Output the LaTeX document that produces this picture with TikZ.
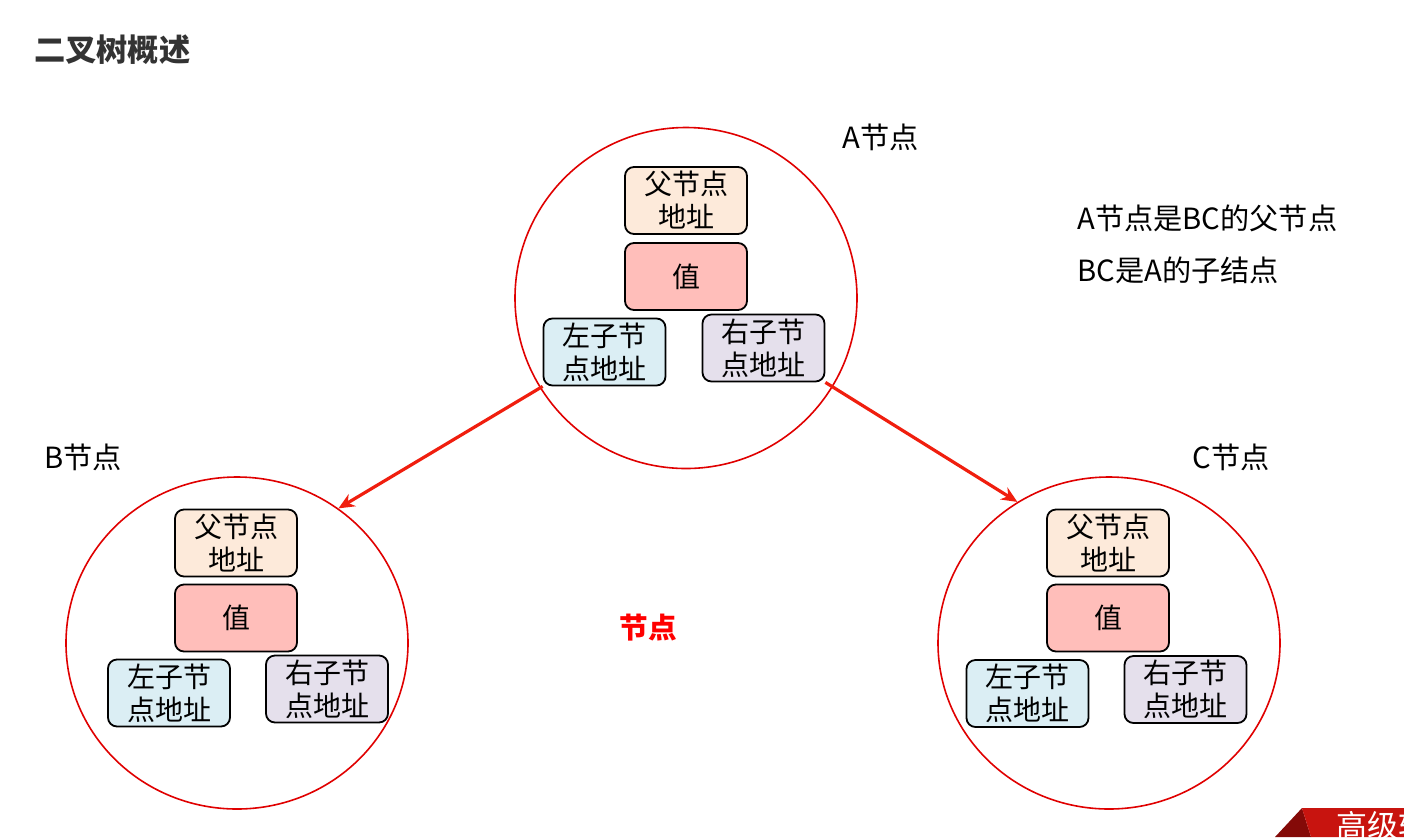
\documentclass[tikz,border=0pt]{standalone}
\usepackage{fontspec}
\setmainfont{Noto Sans CJK SC}
\usetikzlibrary{arrows.meta,shapes.geometric}

\definecolor{peach}{HTML}{FDEADA}
\definecolor{valred}{HTML}{FFBEBA}
\definecolor{lblue}{HTML}{DBEEF4}
\definecolor{lilac}{HTML}{E5E0EC}
\definecolor{ringred}{HTML}{E00000}
\definecolor{arrowred}{HTML}{F01E0E}
\definecolor{titlegray}{HTML}{333333}
\definecolor{bandred}{HTML}{C8140F}
\definecolor{banddark}{HTML}{840A08}

\tikzset{
  field/.style={draw=black, line width=0.9pt, rounded corners=4.5pt,
    minimum width=61pt, minimum height=33.5pt, inner sep=0pt,
    align=center, font=\fontsize{14}{16.5}\selectfont},
  parentbox/.style={field, fill=peach},
  valuebox/.style={field, fill=valred},
  leftbox/.style={field, fill=lblue},
  rightbox/.style={field, fill=lilac},
  ring/.style={ellipse, draw=ringred, line width=0.8pt, inner sep=0pt,
    minimum width=171pt, minimum height=#1},
  ring/.default=166pt,
  link/.style={draw=arrowred, line width=1.6pt,
    -{Stealth[length=8pt,width=7pt]}},
  caption/.style={font=\fontsize{14.6}{17}\selectfont, inner sep=0pt},
}

\begin{document}
\begin{tikzpicture}[x=0.5pt,y=-0.5pt]
\useasboundingbox (0,0) rectangle (1404,837);
\fill[white] (0,0) rectangle (1404,837);

% heading
\node[anchor=west, inner sep=0pt, text=titlegray,
      font=\fontsize{15.6}{18}\selectfont\bfseries] (title) at (34,50) {二叉树概述};

% node A
\node[ring=170.5pt] (A) at (686,298) {};
\node[parentbox] (Ap) at (686,200.5) {父节点\\地址};
\node[valuebox]  (Av) at (686,276.5) {值};
\node[leftbox]   (Al) at (604.5,352) {左子节\\点地址};
\node[rightbox]  (Ar) at (763.5,348) {右子节\\点地址};
\node[caption] (Alab) at (881,137) {A节点};

% node B
\node[ring] (B) at (237,643) {};
\node[parentbox] (Bp) at (236,543) {父节点\\地址};
\node[valuebox]  (Bv) at (236,618) {值};
\node[leftbox]   (Bl) at (169,693) {左子节\\点地址};
\node[rightbox]  (Br) at (327,689) {右子节\\点地址};
\node[caption] (Blab) at (83,457) {B节点};

% node C
\node[ring] (C) at (1109,643) {};
\node[parentbox] (Cp) at (1108,543) {父节点\\地址};
\node[valuebox]  (Cv) at (1108,618) {值};
\node[leftbox]   (Cl) at (1027.5,693.5) {左子节\\点地址};
\node[rightbox]  (Cr) at (1185.5,689.5) {右子节\\点地址};
\node[caption] (Clab) at (1231,457) {C节点};

% child links
\draw[link] (Al.south west) -- (B.53);
\draw[link] (Ar.south east) -- (C.123);

% notes
\node[caption, anchor=west] (note1) at (1077,218) {A节点是BC的父节点};
\node[caption, anchor=west] (note2) at (1077,270) {BC是A的子结点};
\node[inner sep=0pt, text=red, font=\fontsize{14.3}{16}\selectfont\bfseries] (mid) at (648,628) {节点};

% corner ribbon, its label running off the page edge
\fill[banddark] (1275,837) -- (1302,808) -- (1311,837) -- cycle;
\fill[bandred] (1302,808) -- (1404,808) -- (1404,837) -- (1311,837) -- cycle;
\begin{scope}
  \clip (1302,808) rectangle (1404,837);
  \node[anchor=north west, inner sep=0pt, text=white,
        font=\fontsize{15.5}{18}\selectfont] (brand) at (1336,811) {高级软};
\end{scope}
\end{tikzpicture}
\end{document}
